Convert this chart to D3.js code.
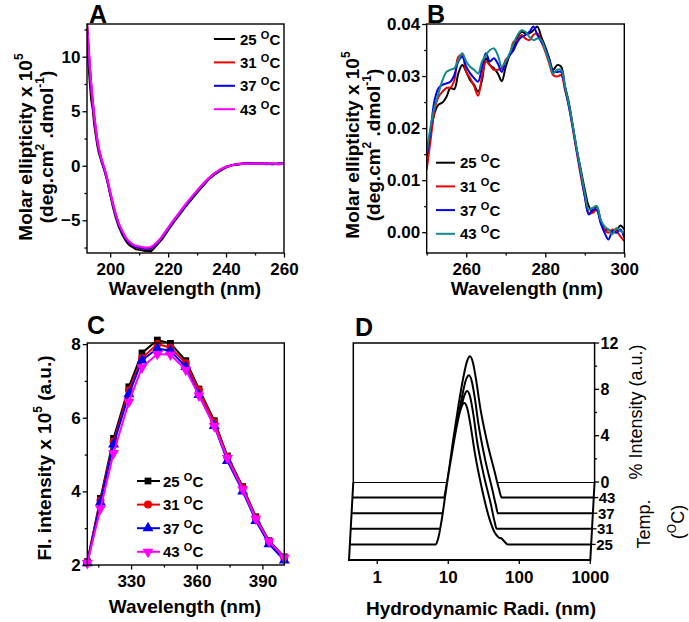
<!DOCTYPE html>
<html><head><meta charset="utf-8">
<script src="https://cdn.jsdelivr.net/npm/d3@7"></script>
<style>body{margin:0;background:#fff} text{font-family:"Liberation Sans",Arial,sans-serif}</style>
</head><body><svg id="c" width="689" height="622"></svg>
<script>
// ---------- DATA ----------
const temps = ["25", "31", "37", "43"];
const colorsA = ["#000000", "#ee0000", "#0000ee", "#ff00ff"];
const colorsB = ["#000000", "#ee0000", "#0000ee", "#138a8a"];
const colorsC = ["#000000", "#ee0000", "#0000ee", "#ff00ff"];

// Panel A: far-UV CD
const aWave = [192,192.5,193,193.5,194,194.5,195,195.5,196,197,198,199,200,201,202,203,204,205,206,207,208,209,210,211,212,213,214,215,216,217,218,220,222,224,226,228,230,232,234,236,238,240,242,244,246,248,250,252,254,256,258,260];
const a25 = [13,9.5,7.6,6.0,5.2,3.8,2.9,2.0,1.3,0.4,-0.4,-1.4,-2.6,-3.8,-4.8,-5.6,-6.2,-6.7,-7.1,-7.35,-7.5,-7.65,-7.7,-7.75,-7.8,-7.8,-7.85,-7.6,-7.3,-7.0,-6.7,-5.9,-5.15,-4.45,-3.75,-3.1,-2.45,-1.85,-1.25,-0.8,-0.45,-0.15,0.05,0.1,0.2,0.25,0.2,0.2,0.2,0.15,0.2,0.2];
const a31 = [13,11,8.8,7.0,5.6,4.3,3.2,2.3,1.5,0.5,-0.3,-1.3,-2.5,-3.6,-4.6,-5.4,-6.0,-6.5,-6.9,-7.2,-7.35,-7.5,-7.55,-7.6,-7.6,-7.65,-7.6,-7.45,-7.15,-6.85,-6.5,-5.75,-5.0,-4.3,-3.6,-2.95,-2.3,-1.7,-1.15,-0.7,-0.35,-0.1,0.05,0.15,0.2,0.2,0.2,0.2,0.15,0.2,0.15,0.2];
const a37 = [12.5,10.8,8.9,7.2,5.8,4.5,3.4,2.4,1.6,0.5,-0.3,-1.3,-2.5,-3.6,-4.6,-5.4,-6.0,-6.5,-6.9,-7.15,-7.35,-7.45,-7.5,-7.55,-7.6,-7.6,-7.55,-7.4,-7.15,-6.85,-6.5,-5.75,-5.05,-4.35,-3.65,-3.0,-2.35,-1.75,-1.2,-0.75,-0.4,-0.1,0.05,0.15,0.2,0.25,0.2,0.2,0.2,0.15,0.2,0.2];
const a43 = [13,11.2,9.0,7.3,5.9,4.6,3.5,2.5,1.7,0.6,-0.2,-1.2,-2.4,-3.5,-4.5,-5.3,-5.9,-6.4,-6.8,-7.05,-7.25,-7.35,-7.4,-7.45,-7.5,-7.5,-7.45,-7.3,-7.05,-6.8,-6.45,-5.7,-4.95,-4.25,-3.55,-2.9,-2.3,-1.7,-1.15,-0.7,-0.35,-0.1,0.05,0.15,0.2,0.2,0.2,0.2,0.2,0.2,0.15,0.2];

// Panel B: near-UV CD
const bWave = [250,251,252,253,254,255,256,257,258,259,260,261,262,263,264,265,266,267,268,269,270,271,272,273,274,275,276,277,278,279,280,281,282,283,284,285,286,287,288,289,290,291,292,293,294,295,296,297,298,299,300];
const b25 = [0.0146,0.019,0.0229,0.0245,0.0249,0.026,0.0277,0.0275,0.0305,0.0321,0.0308,0.0292,0.0283,0.027,0.0292,0.0334,0.0321,0.0315,0.0305,0.029,0.0318,0.034,0.0356,0.0375,0.0385,0.0382,0.0382,0.0388,0.0395,0.0375,0.0356,0.0334,0.0312,0.0321,0.0318,0.028,0.0248,0.0203,0.0158,0.012,0.0082,0.005,0.004,0.005,0.0024,0.0005,0.0005,-0.0001,0.0002,0.0013,0.0005];
const b31 = [0.012,0.0178,0.0235,0.026,0.027,0.0277,0.0278,0.0292,0.0337,0.034,0.0308,0.0296,0.028,0.0262,0.0299,0.0328,0.0321,0.0312,0.0312,0.0315,0.0331,0.034,0.0366,0.0369,0.0379,0.0372,0.0369,0.0379,0.0382,0.0366,0.0347,0.0324,0.0302,0.0299,0.0302,0.0273,0.0241,0.0197,0.0152,0.0107,0.0069,0.0037,0.0037,0.0043,0.0021,0.0005,-0.0001,0.0005,0.0002,-0.0008,-0.0017];
const b37 = [0.0146,0.0197,0.0254,0.0277,0.0283,0.0286,0.0289,0.0302,0.0328,0.0337,0.0318,0.0305,0.0296,0.0289,0.0318,0.0344,0.0328,0.0334,0.0324,0.0308,0.0328,0.034,0.035,0.0366,0.0375,0.0379,0.0385,0.0395,0.0379,0.0366,0.0353,0.0331,0.0308,0.0308,0.0308,0.0277,0.0241,0.02,0.0155,0.0114,0.0069,0.0034,0.0043,0.0043,0.0018,-0.0001,-0.0014,0.0002,-0.0001,0.0005,-0.0011];
const b43 = [0.0152,0.0203,0.0241,0.0267,0.0292,0.0308,0.0312,0.0315,0.0331,0.0344,0.0328,0.0318,0.0312,0.0305,0.0328,0.034,0.035,0.0353,0.034,0.0318,0.0328,0.0344,0.0363,0.0379,0.0388,0.0385,0.0375,0.0369,0.0372,0.0369,0.035,0.0328,0.0305,0.0312,0.0312,0.028,0.0245,0.0203,0.0158,0.0117,0.0075,0.0043,0.0047,0.005,0.0024,0.0011,0.0005,-0.0004,0.0008,0.0002,-0.0001];

// Panel C: fluorescence
const cWave = [310,316,322,329,335,342,348,355,361,368,374,381,387,393,400];
const c25 = [2.09,3.81,5.44,6.84,7.76,8.11,8.02,7.55,6.78,5.92,4.96,4.13,3.31,2.66,2.22];
const c31 = [2.08,3.75,5.35,6.75,7.62,8.0,7.91,7.48,6.75,5.88,4.93,4.1,3.28,2.63,2.2];
const c37 = [2.05,3.7,5.28,6.64,7.56,7.88,7.82,7.38,6.62,5.78,4.83,4.0,3.2,2.57,2.13];
const c43 = [2.05,3.53,5.04,6.43,7.37,7.73,7.71,7.3,6.6,5.77,4.9,4.05,3.25,2.64,2.2];

// Panel D: DLS size distributions (radius nm, % intensity)
const dTemps = [43, 37, 31, 25];
const dR43 = [7.8,8.2,9.0,10.5,12.4,14.5,16.5,18.1,19.8,22,25,31,40.7,46,50.6];
const dI43 = [0,0.6,2.1,5.0,7.9,10.3,11.8,12.2,11.7,10.2,7.9,5.0,2.1,0.8,0];
const dR37 = [7.6,8.1,8.9,10.3,12.2,14.3,16.3,18.0,19.7,21.8,24.6,30,38.5,43,46];
const dI37 = [0,0.5,2.0,4.9,7.7,10.0,11.5,11.9,11.4,9.9,7.6,4.8,2.0,0.7,0];
const dR31 = [7.4,7.9,8.7,10.0,11.9,13.9,15.9,17.5,19.2,21.3,24,29.5,38,42.5,45.4];
const dI31 = [0,0.5,2.0,4.9,7.7,10.0,11.5,11.9,11.4,9.9,7.6,4.8,2.0,0.6,0];
const dR25 = [6.5,7.0,7.8,9.2,11.0,12.9,14.8,16.3,17.9,20,23,28.5,37,44,50,55,60,67];
const dI25 = [0,0.5,2.0,5.0,7.9,10.3,11.8,12.2,11.8,10.3,7.9,5.0,2.2,1.0,0.6,0.5,0.25,0];

// Axis ticks
const aXMaj = [200,220,240,260], aXMin = [210,230,250], aYMaj = [-5,0,5,10], aYMin = [-7.5,-2.5,2.5,7.5,12.5];
const bXMaj = [260,280,300], bXMin = [250,270,290], bYMaj = [0,0.01,0.02,0.03,0.04], bYMin = [0.005,0.015,0.025,0.035];
const cXMaj = [330,360,390], cXMin = [315,345,375], cYMaj = [2,4,6,8], cYMin = [3,5,7];
const dXMaj = [1,10,100,1000], dIMaj = [0,4,8,12], dIMin = [2,6,10];

// ---------- DRAW ----------
const svg = d3.select("#c");

function styleAxis(sel, fs) {
  sel.select(".domain").remove();
  sel.selectAll("line").attr("stroke", "#000").attr("stroke-width", 1.3);
  sel.selectAll("text").attr("fill", "#000").attr("font-size", fs).attr("font-weight", "bold")
    .attr("font-family", "Liberation Sans, Arial, sans-serif");
}

function frame(xs, ys, xMaj, xMin, yMaj, yMin, yFmt) {
  const g = svg.append("g");
  const [x0, x1] = xs.range(), [y0, y1] = ys.range();
  g.append("g").attr("transform", `translate(0,${y0})`)
    .call(d3.axisBottom(xs).tickValues(xMin).tickSize(2.5).tickFormat("")).call(s => styleAxis(s, 17));
  g.append("g").attr("transform", `translate(0,${y0})`)
    .call(d3.axisBottom(xs).tickValues(xMaj).tickSize(4.5).tickPadding(5).tickFormat(d3.format("d"))).call(s => styleAxis(s, 17));
  g.append("g").attr("transform", `translate(${x0},0)`)
    .call(d3.axisLeft(ys).tickValues(yMin).tickSize(2.5).tickFormat("")).call(s => styleAxis(s, 17));
  g.append("g").attr("transform", `translate(${x0},0)`)
    .call(d3.axisLeft(ys).tickValues(yMaj).tickSize(4.5).tickPadding(2).tickFormat(yFmt)).call(s => styleAxis(s, 17));
  g.append("rect").attr("x", x0).attr("y", y1).attr("width", x1 - x0).attr("height", y0 - y1)
    .attr("fill", "none").attr("stroke", "#000").attr("stroke-width", 1.4);
}

function clip(id, xs, ys) {
  const [x0, x1] = xs.range(), [y0, y1] = ys.range();
  svg.append("clipPath").attr("id", id).append("rect")
    .attr("x", x0).attr("y", y1).attr("width", x1 - x0).attr("height", y0 - y1);
}

function richText(parent, x, y, parts, opts) {
  const t = parent.append("text").attr("font-size", opts.fs).attr("font-weight", opts.fw || "bold")
    .attr("text-anchor", opts.anchor || "start").attr("fill", "#000");
  if (opts.rot) t.attr("transform", `translate(${x},${y}) rotate(-90)`);
  else t.attr("x", x).attr("y", y);
  let shift = 0;
  parts.forEach(p => {
    const sup = typeof p !== "string";
    const s = t.append("tspan").text(sup ? p.s : p);
    const target = sup ? -(opts.supDy || 7) : 0;
    s.attr("dy", target - shift);
    shift = target;
    if (sup) s.attr("font-size", opts.supFs || 12);
  });
  return t;
}

function panelLabel(x, y, s) {
  svg.append("text").attr("x", x).attr("y", y).attr("font-size", 25).attr("font-weight", "bold").text(s);
}

// Panel A
const xA = d3.scaleLinear().domain([192, 260]).range([87, 284]);
const yA = d3.scaleLinear().domain([-8, 13]).range([253, 24]);
clip("clipA", xA, yA);
const aSeries = [a25, a31, a37, a43];
const gA = svg.append("g").attr("clip-path", "url(#clipA)");
aSeries.forEach((s, i) => {
  gA.append("path").datum(aWave.map((w, j) => [w, s[j]]))
    .attr("d", d3.line().x(d => xA(d[0])).y(d => yA(d[1])))
    .attr("fill", "none").attr("stroke", colorsA[i]).attr("stroke-width", 2.2).attr("stroke-linejoin", "round");
});
frame(xA, yA, aXMaj, aXMin, aYMaj, aYMin, d3.format("d"));
temps.forEach((t, i) => {
  const y = 39 + i * 23.4;
  svg.append("line").attr("x1", 214).attr("x2", 235).attr("y1", y).attr("y2", y).attr("stroke", colorsA[i]).attr("stroke-width", 2);
  richText(svg, 240, y + 5.5, [t + " ", {s: "O"}, "C"], {fs: 15, supFs: 11, supDy: 6});
});
panelLabel(89, 23, "A");
richText(svg, 32, 147, ["Molar ellipticity x 10", {s: "5"}], {fs: 19, rot: true, anchor: "middle", supFs: 12, supDy: 9});
richText(svg, 53, 147, ["(deg.cm", {s: "2"}, " .dmol", {s: "-1"}, ")"], {fs: 19, rot: true, anchor: "middle", supFs: 12, supDy: 9});
svg.append("text").attr("x", 185).attr("y", 295).attr("text-anchor", "middle").attr("font-size", 19).attr("font-weight", "bold").text("Wavelength (nm)");

// Panel B
const xB = d3.scaleLinear().domain([250, 300]).range([426.7, 624.3]);
const yB = d3.scaleLinear().domain([-0.004, 0.04]).range([253, 24]);
clip("clipB", xB, yB);
const bSeries = [b25, b31, b37, b43];
const gB = svg.append("g").attr("clip-path", "url(#clipB)");
bSeries.forEach((s, i) => {
  gB.append("path").datum(bWave.map((w, j) => [w, s[j]]))
    .attr("d", d3.line().curve(d3.curveCatmullRom).x(d => xB(d[0])).y(d => yB(d[1])))
    .attr("fill", "none").attr("stroke", colorsB[i]).attr("stroke-width", 2).attr("stroke-linejoin", "round");
});
frame(xB, yB, bXMaj, bXMin, bYMaj, bYMin, d3.format(".2f"));
temps.forEach((t, i) => {
  const y = 162.7 + i * 23.7;
  svg.append("line").attr("x1", 436).attr("x2", 455).attr("y1", y).attr("y2", y).attr("stroke", colorsB[i]).attr("stroke-width", 2);
  richText(svg, 460, y + 5.5, [t + " ", {s: "O"}, "C"], {fs: 15, supFs: 11, supDy: 6});
});
panelLabel(427, 23, "B");
richText(svg, 359, 145, ["Molar ellipticity x 10", {s: "5"}], {fs: 19, rot: true, anchor: "middle", supFs: 12, supDy: 9});
richText(svg, 380, 145, ["(deg.cm", {s: "2"}, " .dmol", {s: "-1"}, ")"], {fs: 19, rot: true, anchor: "middle", supFs: 12, supDy: 9});
svg.append("text").attr("x", 527).attr("y", 295).attr("text-anchor", "middle").attr("font-size", 19).attr("font-weight", "bold").text("Wavelength (nm)");

// Panel C
const xC = d3.scaleLinear().domain([310, 400]).range([87.3, 284.3]);
const yC = d3.scaleLinear().domain([2, 8.03]).range([565, 343]);
const cSeries = [c25, c31, c37, c43];
const symbols = [
  {type: d3.symbolSquare, size: 46, rot: 0},
  {type: d3.symbolCircle, size: 50, rot: 0},
  {type: d3.symbolTriangle, size: 52, rot: 0},
  {type: d3.symbolTriangle, size: 52, rot: 180}
];
const gC = svg.append("g");
cSeries.forEach((s, i) => {
  const pts = cWave.map((w, j) => [w, s[j]]);
  gC.append("path").datum(pts).attr("d", d3.line().x(d => xC(d[0])).y(d => yC(d[1])))
    .attr("fill", "none").attr("stroke", colorsC[i]).attr("stroke-width", 2);
  gC.selectAll(null).data(pts).enter().append("path")
    .attr("d", d3.symbol().type(symbols[i].type).size(symbols[i].size))
    .attr("transform", d => `translate(${xC(d[0])},${yC(d[1])}) rotate(${symbols[i].rot})`)
    .attr("fill", colorsC[i]);
});
frame(xC, yC, cXMaj, cXMin, cYMaj, cYMin, d3.format("d"));
temps.forEach((t, i) => {
  const y = 481 + i * 23.6;
  svg.append("line").attr("x1", 137).attr("x2", 160).attr("y1", y).attr("y2", y).attr("stroke", colorsC[i]).attr("stroke-width", 2);
  svg.append("path").attr("d", d3.symbol().type(symbols[i].type).size(symbols[i].size))
    .attr("transform", `translate(148,${y}) rotate(${symbols[i].rot})`).attr("fill", colorsC[i]);
  richText(svg, 163, y + 5.5, [t + " ", {s: "O"}, "C"], {fs: 15, supFs: 11, supDy: 6});
});
panelLabel(87, 334, "C");
richText(svg, 51, 458, ["Fl. intensity x 10", {s: "5"}, " (a.u.)"], {fs: 19, rot: true, anchor: "middle", supFs: 12, supDy: 9});
svg.append("text").attr("x", 185).attr("y", 613).attr("text-anchor", "middle").attr("font-size", 19).attr("font-weight", "bold").text("Wavelength (nm)");

// Panel D: waterfall
const xD = d3.scaleLog().domain([0.4, 1000]).range([353.3, 594.6]); // back plane
const iD = d3.scaleLinear().domain([0, 12]).range([482, 343]);      // back wall intensity
const zD = d3.scaleLinear().domain([49, 19]).range([0, 1]);          // depth (back -> front)
const depthDx = -4.3, depthDy = 78;
const px = (r, t) => xD(r) + depthDx * zD(t);
const py = (v, t) => iD(v) + depthDy * zD(t);
const gD = svg.append("g");
const back = 49, front = 19;
const [rMin, rMax] = xD.domain();
// back wall
gD.append("path").attr("d", d3.line()([[px(rMin, back), iD(0)], [px(rMin, back), iD(12)], [px(rMax, back), iD(12)], [px(rMax, back), iD(0)]]))
  .attr("fill", "none").attr("stroke", "#000").attr("stroke-width", 1.5);
gD.append("line").attr("x1", px(rMin, back)).attr("x2", px(rMax, back)).attr("y1", iD(0) + 0.5).attr("y2", iD(0) + 0.5).attr("stroke", "#000").attr("stroke-width", 1);
// intensity ticks
dIMaj.forEach(v => {
  gD.append("line").attr("x1", px(rMax, back)).attr("x2", px(rMax, back) + 4.5).attr("y1", iD(v)).attr("y2", iD(v)).attr("stroke", "#000").attr("stroke-width", 1.3);
  gD.append("text").attr("x", px(rMax, back) + 6).attr("y", iD(v)).attr("dy", "0.35em").attr("font-size", 16).attr("font-weight", "bold").text(v);
});
dIMin.forEach(v => {
  gD.append("line").attr("x1", px(rMax, back)).attr("x2", px(rMax, back) + 2.5).attr("y1", iD(v)).attr("y2", iD(v)).attr("stroke", "#000").attr("stroke-width", 1.3);
});
// curves back to front
const dData = {43: [dR43, dI43], 37: [dR37, dI37], 31: [dR31, dI31], 25: [dR25, dI25]};
dTemps.forEach(t => {
  const [rs, is] = dData[t];
  const pts = [[rMin, 0]].concat(rs.map((r, j) => [r, is[j]])).concat([[rMax, 0]]);
  gD.append("path").datum(pts)
    .attr("d", d3.line().curve(d3.curveMonotoneX).x(d => px(d[0], t)).y(d => py(d[1], t)))
    .attr("fill", "#fff").attr("stroke", "#000").attr("stroke-width", 2).attr("stroke-linejoin", "round");
  gD.append("line").attr("x1", px(rMax, t)).attr("x2", px(rMax, t) + 4.5).attr("y1", py(0, t)).attr("y2", py(0, t)).attr("stroke", "#000").attr("stroke-width", 1.3);
  gD.append("text").attr("x", px(rMax, t) + 5).attr("y", py(0, t)).attr("dy", "0.36em").attr("font-size", 15).attr("font-weight", "bold").text(t);
});
// front frame
gD.append("path").attr("d", d3.line()([[px(rMin, back), iD(0)], [px(rMin, front), py(0, front)], [px(rMax, front), py(0, front)], [px(rMax, back), iD(0)]]))
  .attr("fill", "none").attr("stroke", "#000").attr("stroke-width", 2);
dXMaj.forEach(v => {
  gD.append("line").attr("x1", px(v, front)).attr("x2", px(v, front)).attr("y1", py(0, front)).attr("y2", py(0, front) + 4).attr("stroke", "#000").attr("stroke-width", 1.3);
  gD.append("text").attr("x", px(v, front)).attr("y", 583).attr("text-anchor", "middle").attr("font-size", 17).attr("font-weight", "bold").text(v);
});
panelLabel(355, 336, "D");
svg.append("text").attr("x", 481).attr("y", 615).attr("text-anchor", "middle").attr("font-size", 19).attr("font-weight", "bold").text("Hydrodynamic Radi. (nm)");
richText(svg, 642, 412, ["% Intensity (a.u.)"], {fs: 18, fw: "normal", rot: true, anchor: "middle"});
richText(svg, 650, 524, ["Temp."], {fs: 18, fw: "normal", rot: true, anchor: "middle"});
richText(svg, 684, 522, ["(", {s: "O"}, "C)"], {fs: 18, fw: "normal", rot: true, anchor: "middle", supFs: 12, supDy: 8});
</script></body></html>
